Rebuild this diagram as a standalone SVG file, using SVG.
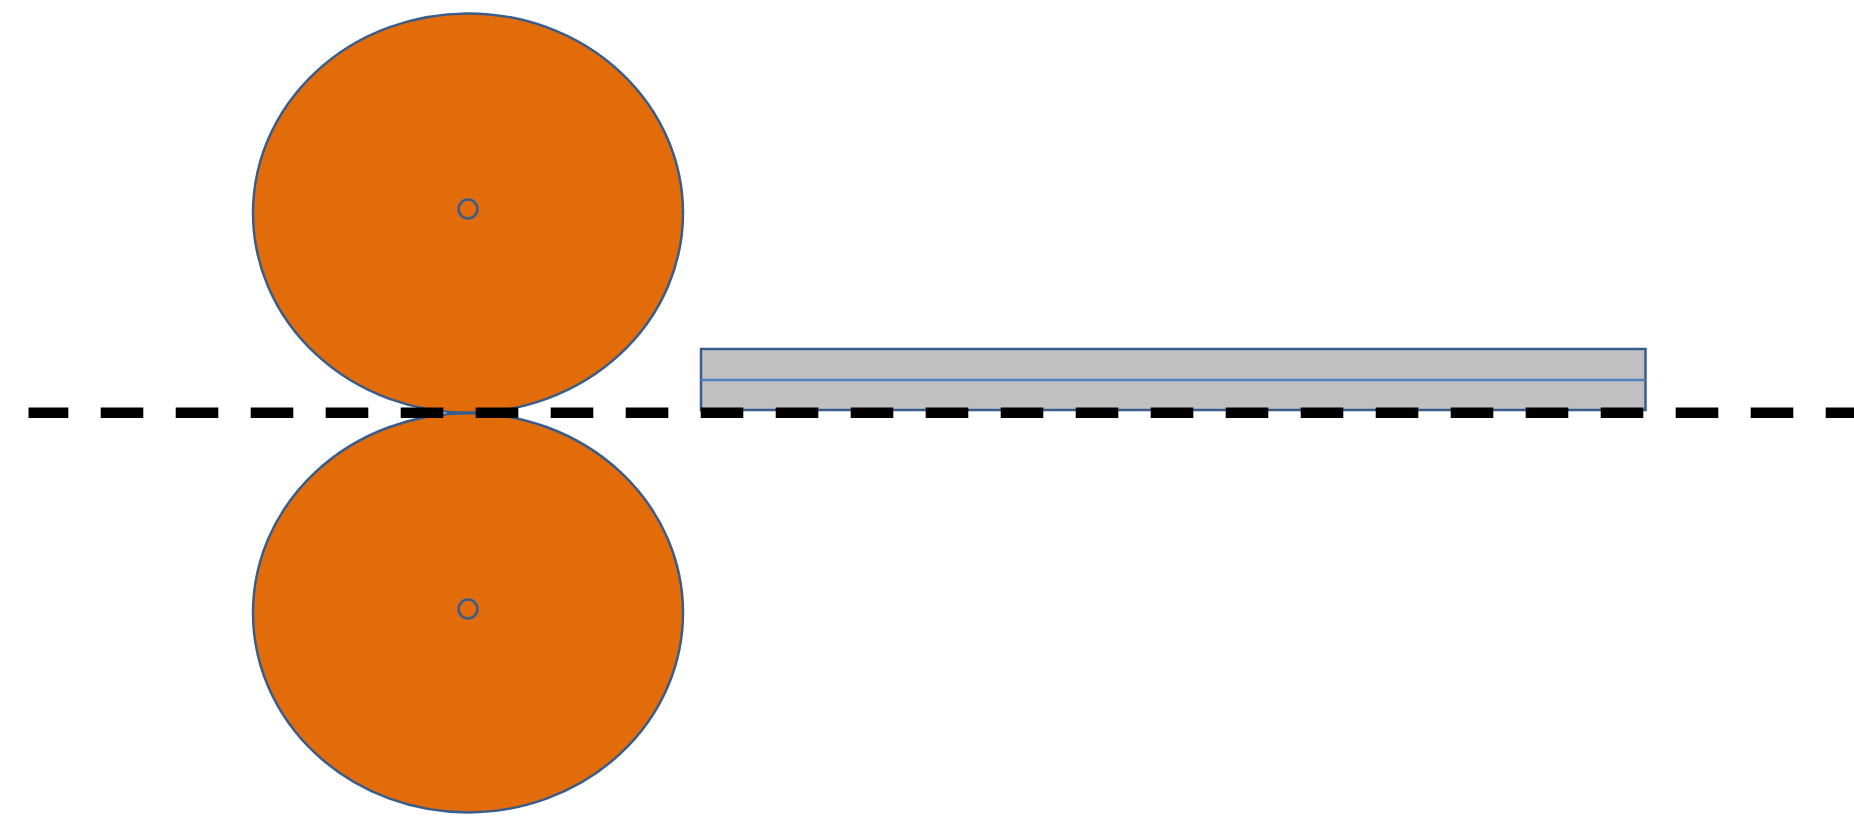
<svg xmlns="http://www.w3.org/2000/svg" width="1854" height="816" viewBox="0 0 1854 816">
  <style>
    .roll { fill: #E36C0A; stroke: #385D8A; stroke-width: 2.5; }
    .axle { fill: none; stroke: #385D8A; stroke-width: 2.5; }
    .plate { fill: #C0C0C0; stroke: #385D8A; stroke-width: 2.5; }
    .mid { stroke: #4F81BD; stroke-width: 2.5; }
    .centerline { stroke: #000000; stroke-width: 10.5; stroke-dasharray: 42.6 32.4; fill: none; }
  </style>
  <rect width="1854" height="816" fill="#FFFFFF"/>
  <g id="roll-top">
    <ellipse class="roll" cx="468" cy="213" rx="215" ry="199.6"/>
    <circle class="axle" cx="468" cy="209" r="9.5"/>
  </g>
  <g id="roll-bottom">
    <ellipse class="roll" cx="468" cy="612.8" rx="215" ry="199.6"/>
    <circle class="axle" cx="468" cy="609" r="9.5"/>
  </g>
  <g id="plate">
    <rect class="plate" x="701" y="349" width="944.5" height="61"/>
    <line class="mid" x1="701" y1="380" x2="1645.5" y2="380"/>
  </g>
  <g id="connectors">
    <line class="centerline" x1="28.5" y1="412.8" x2="1854" y2="412.8" stroke-dashoffset="2.8"/>
  </g>
</svg>
